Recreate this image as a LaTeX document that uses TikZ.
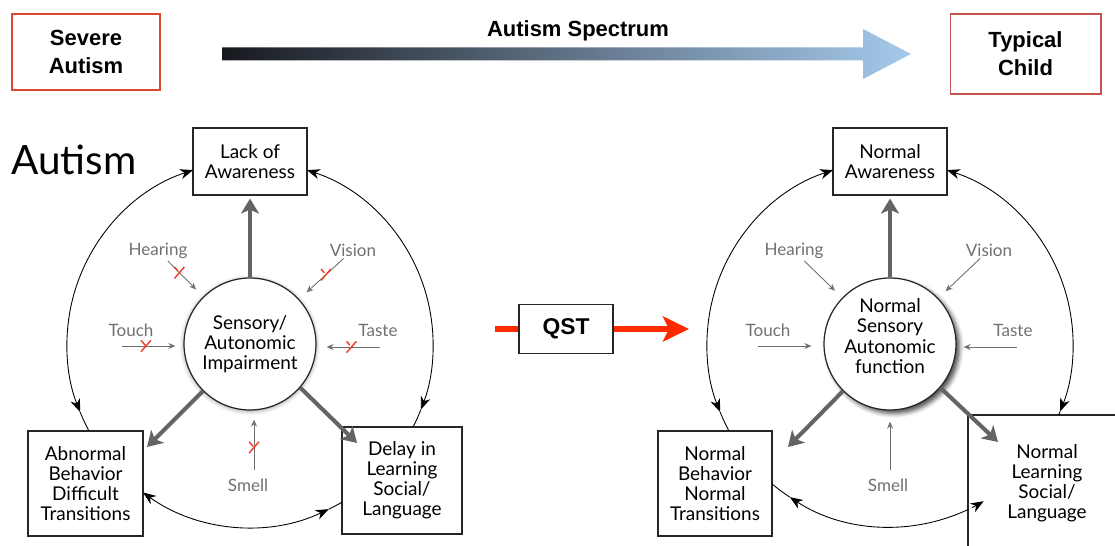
\documentclass[tikz,border=0pt]{standalone}
\usepackage{fontspec}
\setmainfont{Lato}
\newfontfamily\headfont{Liberation Sans}
\usepackage{xcolor}
\usepackage{tikz}
\usetikzlibrary{arrows.meta, positioning, calc, shapes.misc, shadows.blur}

\definecolor{linkgray}{HTML}{646464}
\definecolor{sensegray}{HTML}{707070}
\definecolor{crossred}{HTML}{EE3B24}
\definecolor{qstred}{HTML}{FF2A00}
\definecolor{severered}{HTML}{DD4A32}
\definecolor{childred}{HTML}{C4544C}
\definecolor{specdark}{HTML}{18191F}
\definecolor{speclight}{HTML}{A6CAEC}

\begin{document}
\begin{tikzpicture}[x=0.02cm, y=-0.02cm,
    >={Stealth[length=2.6mm, width=2mm, inset=0.8mm]},
    endbox/.style={rectangle, draw=severered, line width=0.6pt, minimum width=2.96cm, minimum height=1.52cm, align=center, inner sep=0pt, font=\headfont\bfseries\fontsize{12.5}{16}\selectfont},
    stage/.style={rectangle, draw=black!85, line width=0.7pt, fill=white, align=center, inner sep=0pt, font=\fontsize{10.8}{11.4}\selectfont},
    core/.style={circle, draw=black!85, line width=0.7pt, fill=white, minimum size=2.64cm, inner sep=0pt, align=center, font=\fontsize{10.8}{11.4}\selectfont},
    sense/.style={text=sensegray, font=\fontsize{9.7}{11}\selectfont, inner sep=1pt},
    sensearrow/.style={-{Stealth[length=1.4mm, width=1.2mm]}, draw=sensegray, line width=0.5pt},
    effect/.style={-{Stealth[length=3mm, width=3.6mm, inset=0.8mm]}, draw=linkgray, line width=2.3pt},
    ring/.style={line width=0.5pt},
    blocked/.style={cross out, draw=crossred, line width=0.8pt, minimum width=0.17cm, minimum height=0.2cm, inner sep=0pt},
    qstline/.style={draw=qstred, line width=3.4pt}]

    \useasboundingbox (0,0) rectangle (1115,546);

    % Spectrum header
    \node[endbox] (severe) at (86,52) {Severe\\Autism};
    \node[endbox, draw=childred, minimum width=3.02cm, minimum height=1.6cm] (typical) at (1025.5,54) {Typical\\Child};
    \shade[left color=specdark, right color=speclight]
        (222,47.5) -- (863,47.5) -- (863,29) -- (911,54) -- (863,79) -- (863,60.5) -- (222,60.5) -- cycle;
    \node[font=\headfont\bfseries\fontsize{12.5}{15}\selectfont] (spectrum) at (578,31) {Autism Spectrum};

    \node[font=\fontsize{23}{26}\selectfont] (autism) at (74,160) {Autism};

    % Autism side
    \node[stage, minimum width=2.28cm, minimum height=1.34cm] (lackL) at (250,161.5) {Lack of\\Awareness};
    \node[core, blur shadow={shadow xshift=0pt, shadow yshift=-0.6pt, shadow blur radius=2.5pt, shadow opacity=40}] (sensL) at (250,344) {Sensory/\\Autonomic\\Impairment};
    \node[stage, minimum width=2.3cm, minimum height=2.1cm] (abnL) at (85.5,483.5) {Abnormal\\Behavior\\Difficult\\Transitions};
    \node[stage, minimum width=2.4cm, minimum height=2.14cm] (delayL) at (402,480.5) {Delay in\\Learning\\Social/\\Language};

    \node[sense] (hearL) at (158,251) {Hearing};
    \node[sense] (visionL) at (353,250) {Vision};
    \node[sense] (touchL) at (131,330) {Touch};
    \node[sense] (tasteL) at (378,330) {Taste};
    \node[sense] (smellL) at (248,485) {Smell};
    \coordinate (touchAL) at (122,346);
    \coordinate (tasteAL) at (380,347);
    \coordinate (smellAL) at (254,470);

    \draw[sensearrow, shorten >=0.2cm] (hearL) -- (sensL) node[blocked, pos=0.33] {};
    \draw[sensearrow, shorten >=0.2cm] (visionL) -- (sensL) node[blocked, pos=0.4] {};
    \draw[sensearrow, shorten >=0.16cm] (touchAL) -- (touchAL -| sensL.west) node[blocked, pos=0.39] {};
    \draw[sensearrow, shorten >=0.2cm] (tasteAL) -- (tasteAL -| sensL.east) node[blocked, pos=0.45] {};
    \draw[sensearrow, shorten >=0.18cm] (smellAL) -- (smellAL |- sensL.south) node[blocked, pos=0.38] {};

    \coordinate (abnTipL) at (147,447);
    \coordinate (delayTipL) at (357,443);
    \draw[effect, shorten >=0.06cm] (sensL) -- (lackL);
    \draw[effect] (sensL.-135) -- (abnTipL);
    \draw[effect] (sensL.-41) -- (delayTipL);

    \draw[ring, <->] ($(sensL)+(251.9:183)$) arc[start angle=251.9, end angle=158.2, radius=183];
    \draw[ring] ($(sensL)+(158.2:183)$) arc[start angle=158.2, end angle=151.6, radius=183];
    \draw[ring, <->] ($(sensL)+(-71.9:183)$) arc[start angle=-71.9, end angle=21, radius=183];
    \draw[ring] ($(sensL)+(21:183)$) arc[start angle=21, end angle=27, radius=183];
    \draw[ring, <->] ($(sensL)+(64.5:183)$) arc[start angle=64.5, end angle=125.8, radius=183];
    \draw[ring] ($(sensL)+(59.8:183)$) arc[start angle=59.8, end angle=64.5, radius=183];

    % QST step
    \node[rectangle, draw=black!85, line width=0.7pt, fill=white, minimum width=1.88cm, minimum height=0.98cm, font=\headfont\bfseries\fontsize{13}{15}\selectfont] (qst) at (566,329) {QST};
    \coordinate (qstIn) at (495,329);
    \coordinate (qstOut) at (689,329);
    \draw[qstline] (qstIn) -- (qst);
    \draw[qstline, -{Stealth[length=0.52cm, width=0.5cm, inset=0.12cm]}] (qst) -- (qstOut);

    % Typical side
    \node[stage, minimum width=2.28cm, minimum height=1.34cm] (awareR) at (890,161.5) {Normal\\Awareness};
    \node[core, text depth=0.32cm, blur shadow={shadow xshift=2pt, shadow yshift=-2pt, shadow blur radius=2.5pt, shadow opacity=70}] (sensR) at (890,344) {Normal\\Sensory\\Autonomic\\function};
    \node[stage, minimum width=2.28cm, minimum height=2.1cm] (behavR) at (715,483.5) {Normal\\Behavior\\Normal\\Transitions};
    \node[stage, minimum width=3.16cm, minimum height=2.72cm] (learnR) at (1047,483) {Normal\\Learning\\Social/\\Language};

    \node[sense] (hearR) at (794,251) {Hearing};
    \node[sense] (visionR) at (989,250) {Vision};
    \node[sense] (touchR) at (768,330) {Touch};
    \node[sense] (tasteR) at (1013,330) {Taste};
    \node[sense] (smellR) at (888,485) {Smell};
    \coordinate (touchAR) at (758,346);
    \coordinate (tasteAR) at (1017,347);
    \coordinate (smellAR) at (890,470);

    \draw[sensearrow, shorten >=0.2cm] (hearR) -- (sensR);
    \draw[sensearrow, shorten >=0.2cm] (visionR) -- (sensR);
    \draw[sensearrow, shorten >=0.24cm] (touchAR) -- (touchAR -| sensR.west);
    \draw[sensearrow, shorten >=0.14cm] (tasteAR) -- (tasteAR -| sensR.east);
    \draw[sensearrow, shorten >=0.22cm] (smellAR) -- (smellAR |- sensR.south);

    \coordinate (behavTipR) at (788,447);
    \coordinate (learnTipR) at (998,442);
    \draw[effect, shorten >=0.06cm] (sensR) -- (awareR);
    \draw[effect] (sensR.-135) -- (behavTipR);
    \draw[effect] (sensR.-41) -- (learnTipR);

    \draw[ring, <->] ($(sensR)+(251.9:183)$) arc[start angle=251.9, end angle=158.2, radius=183];
    \draw[ring] ($(sensR)+(158.2:183)$) arc[start angle=158.2, end angle=151.6, radius=183];
    \draw[ring, <->] ($(sensR)+(-71.9:183)$) arc[start angle=-71.9, end angle=21.6, radius=183];
    \draw[ring] ($(sensR)+(21.6:183)$) arc[start angle=21.6, end angle=22.8, radius=183];
    \draw[ring, ->] ($(sensR)+(64.7:183)$) arc[start angle=64.7, end angle=123.2, radius=183];
    \draw[ring] ($(sensR)+(123.2:183)$) arc[start angle=123.2, end angle=130.1, radius=183];
    \draw[ring, <-] ($(sensR)+(59.2:183)$) arc[start angle=59.2, end angle=63.4, radius=183];

\end{tikzpicture}
\end{document}
